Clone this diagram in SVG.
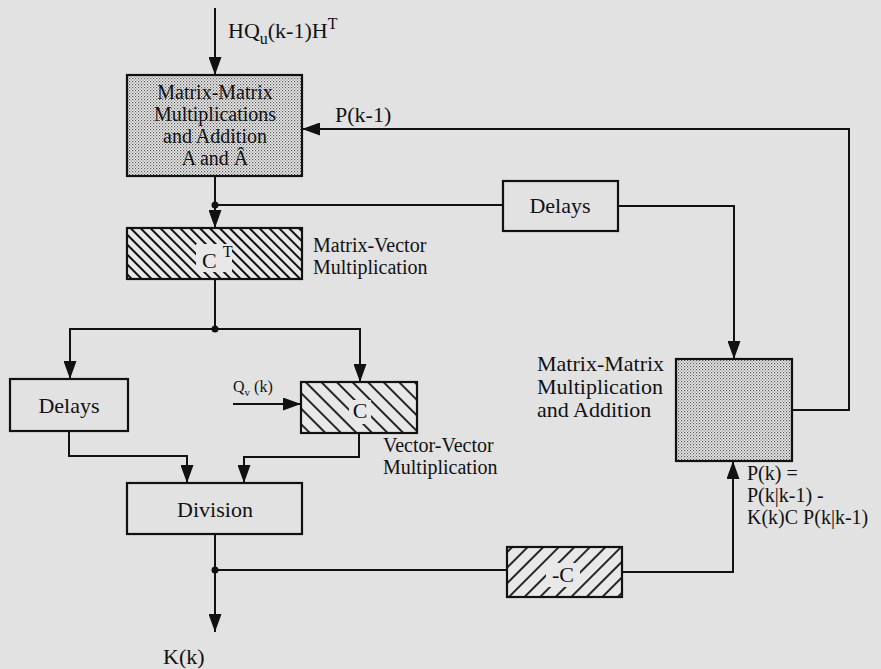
<svg xmlns="http://www.w3.org/2000/svg" width="881" height="669" viewBox="0 0 881 669">
<defs>
<style>
.t{font-family:"Liberation Serif","Times New Roman",serif;font-size:22px;fill:#111}
.u{font-size:20px}
.s{font-size:16px}
.m{text-anchor:middle}
.box{stroke:#111;stroke-width:2.2;fill:none}
.c{stroke:#111;stroke-width:2;fill:none}
.dot{fill:#111}
</style>
<marker id="ah" viewBox="0 0 18 13" refX="18" refY="6.5" markerWidth="18" markerHeight="13" markerUnits="userSpaceOnUse" orient="auto">
<path d="M0,0 L18,6.5 L0,13 z" fill="#111"/>
</marker>
<pattern id="stip" width="3" height="3" patternUnits="userSpaceOnUse">
<rect width="3" height="3" fill="#ececec"/>
<rect x="0" y="0" width="1.2" height="1.2" fill="#555"/>
<rect x="1.5" y="1.5" width="1.2" height="1.2" fill="#777"/>
</pattern>
<pattern id="hd" width="7" height="7" patternUnits="userSpaceOnUse" patternTransform="rotate(-45)">
<rect width="7" height="7" fill="#e8e8e8"/>
<line x1="1" y1="0" x2="1" y2="7" stroke="#111" stroke-width="2"/>
</pattern>
<pattern id="hs" width="11" height="11" patternUnits="userSpaceOnUse" patternTransform="rotate(-45)">
<rect width="11" height="11" fill="#e8e8e8"/>
<line x1="1" y1="0" x2="1" y2="11" stroke="#111" stroke-width="1.8"/>
</pattern>
<pattern id="hf" width="11" height="11" patternUnits="userSpaceOnUse" patternTransform="rotate(45)">
<rect width="11" height="11" fill="#e8e8e8"/>
<line x1="1" y1="0" x2="1" y2="11" stroke="#111" stroke-width="1.8"/>
</pattern>
</defs>
<rect width="881" height="669" fill="#e2e2e2"/>

<g id="connectors">
<path class="c" d="M215,8 V75" marker-end="url(#ah)"/>
<path class="c" d="M792,410 H849 V129 H302" marker-end="url(#ah)"/>
<path class="c" d="M215,176 V228" marker-end="url(#ah)"/>
<path class="c" d="M215,205 H503"/>
<path class="c" d="M618,206 H734 V359" marker-end="url(#ah)"/>
<path class="c" d="M215,279 V329"/>
<path class="c" d="M215,329 H70 V379" marker-end="url(#ah)"/>
<path class="c" d="M215,329 H360 V382" marker-end="url(#ah)"/>
<path class="c" d="M233,404 H301" marker-end="url(#ah)"/>
<path class="c" d="M69,431 V456 H187 V483" marker-end="url(#ah)"/>
<path class="c" d="M359,433 V457 H244 V483" marker-end="url(#ah)"/>
<path class="c" d="M215,534 V632" marker-end="url(#ah)"/>
<path class="c" d="M215,570 H507"/>
<path class="c" d="M622,572 H733 V461" marker-end="url(#ah)"/>
<circle class="dot" cx="215" cy="205" r="3.5"/>
<circle class="dot" cx="215" cy="329" r="3.5"/>
<circle class="dot" cx="215" cy="570" r="3.5"/>
</g>

<g id="input-label">
<text class="t" x="228" y="38">HQ<tspan class="s" dy="6">u</tspan><tspan dy="-6">(k-1)H</tspan><tspan class="s" dy="-9">T</tspan></text>
</g>

<g id="mm-top">
<rect x="127" y="75" width="175" height="101" class="box" style="fill:url(#stip)"/>
<text class="t u m" x="215" y="99">Matrix-Matrix</text>
<text class="t u m" x="215" y="121">Multiplications</text>
<text class="t u m" x="215" y="143">and Addition</text>
<text class="t u m" x="215" y="165">A and Â</text>
</g>

<g id="pk1-label">
<text class="t" x="335" y="122">P(k-1)</text>
</g>

<g id="delays-right">
<rect x="503" y="181" width="115" height="50" class="box"/>
<text class="t m" x="560" y="213">Delays</text>
</g>

<g id="ct">
<rect x="127" y="228" width="175" height="51" class="box" style="fill:url(#hd)"/>
<rect x="196" y="244" width="36" height="28" fill="#e8e8e8"/>
<text class="t" x="202" y="268">C<tspan class="s" dx="6" dy="-11">T</tspan></text>
<text class="t u" x="313" y="252">Matrix-Vector</text>
<text class="t u" x="313" y="274">Multiplication</text>
</g>

<g id="delays-left">
<rect x="10" y="379" width="118" height="52" class="box"/>
<text class="t m" x="69" y="413">Delays</text>
</g>

<g id="qv-label">
<text class="t s" x="233" y="392">Q<tspan font-size="11" dy="4">v</tspan><tspan dy="-4"> (k)</tspan></text>
</g>

<g id="c">
<rect x="301" y="382" width="116" height="51" class="box" style="fill:url(#hs)"/>
<rect x="349" y="400" width="22" height="24" fill="#e8e8e8"/>
<text class="t m" x="360" y="418">C</text>
<text class="t u" x="383" y="452">Vector-Vector</text>
<text class="t u" x="383" y="474">Multiplication</text>
</g>

<g id="division">
<rect x="127" y="483" width="175" height="51" class="box"/>
<text class="t m" x="215" y="517">Division</text>
</g>

<g id="kk-label">
<text class="t" x="163" y="664">K(k)</text>
</g>

<g id="neg-c">
<rect x="507" y="547" width="115" height="50" class="box" style="fill:url(#hf)"/>
<rect x="546" y="563" width="34" height="24" fill="#e8e8e8"/>
<text class="t m" x="563" y="582">-C</text>
</g>

<g id="mm-right">
<rect x="676" y="359" width="116" height="102" class="box" style="fill:url(#stip)"/>
<text class="t" x="537" y="371">Matrix-Matrix</text>
<text class="t" x="537" y="394">Multiplication</text>
<text class="t" x="537" y="417">and Addition</text>
</g>

<g id="pk-label">
<text class="t u" x="747" y="480">P(k) =</text>
<text class="t u" x="747" y="502">P(k|k-1) -</text>
<text class="t u" x="747" y="524">K(k)C P(k|k-1)</text>
</g>
</svg>
